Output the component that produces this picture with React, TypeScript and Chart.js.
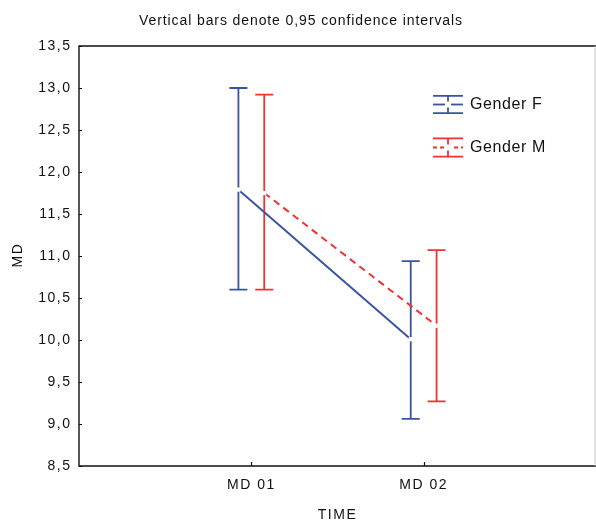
import React, { useEffect, useRef } from "react";
import { Chart, registerables } from "chart.js";

Chart.register(...registerables);

const categories = ["MD 01", "MD 02"];
const seriesNames = ["Gender F", "Gender M"];
const meanF = [11.79, 10.01];
const lowF = [10.6, 9.06];
const highF = [13.0, 10.94];
const meanM = [11.75, 10.17];
const lowM = [10.6, 9.27];
const highM = [12.92, 11.07];
const yMin = 8.5;
const yMax = 13.5;
const yStep = 0.5;
const titleText = "Vertical bars denote 0,95 confidence intervals";
const xTitle = "TIME";
const yTitle = "MD";

const BLUE = "rgb(58,84,164)";
const RED = "rgb(238,50,50)";
const FONT = "'Liberation Sans', Arial, sans-serif";
const OFF = 0.075;
const SPACING = "1.5px";

const errBars = [
  { low: lowF, high: highF, color: BLUE, shift: -OFF },
  { low: lowM, high: highM, color: RED, shift: OFF },
];

const decorPlugin = {
  id: "decor",
  beforeLayout(chart: any) {
    chart.ctx.letterSpacing = SPACING;
  },
  beforeDraw(chart: any) {
    chart.ctx.letterSpacing = SPACING;
  },
  beforeDatasetsDraw(chart: any) {
    const ctx = chart.ctx;
    const xs = chart.scales.x;
    const ys = chart.scales.y;
    ctx.save();
    ctx.lineWidth = 1.8;
    errBars.forEach((eb) => {
      ctx.strokeStyle = eb.color;
      categories.forEach((_, i) => {
        const px = xs.getPixelForValue(i + 1 + eb.shift);
        const top = ys.getPixelForValue(eb.high[i]);
        const bot = ys.getPixelForValue(eb.low[i]);
        ctx.beginPath();
        ctx.moveTo(px, top);
        ctx.lineTo(px, bot);
        ctx.moveTo(px - 9, top);
        ctx.lineTo(px + 9, top);
        ctx.moveTo(px - 9, bot);
        ctx.lineTo(px + 9, bot);
        ctx.stroke();
      });
    });
    ctx.restore();
  },
  afterDraw(chart: any) {
    const ctx = chart.ctx;
    const a = chart.chartArea;
    const xs = chart.scales.x;
    const ys = chart.scales.y;
    const rightX = Math.min(a.right, 595);
    ctx.save();
    // frame
    ctx.strokeStyle = "#111";
    ctx.lineWidth = 1.4;
    ctx.beginPath();
    ctx.moveTo(a.right, a.top);
    ctx.lineTo(a.left, a.top);
    ctx.lineTo(a.left, a.bottom);
    ctx.lineTo(a.right, a.bottom);
    ctx.stroke();
    ctx.strokeStyle = "#c8c8c8";
    ctx.lineWidth = 1;
    ctx.beginPath();
    ctx.moveTo(rightX, a.top);
    ctx.lineTo(rightX, a.bottom);
    ctx.stroke();
    // inward ticks
    ctx.strokeStyle = "#111";
    ctx.lineWidth = 1.2;
    ctx.beginPath();
    for (let v = yMin; v <= yMax + 1e-9; v += yStep) {
      const py = Math.round(ys.getPixelForValue(v)) + 0.5;
      ctx.moveTo(a.left, py);
      ctx.lineTo(a.left + 3, py);
    }
    categories.forEach((_, i) => {
      const px = Math.round(xs.getPixelForValue(i + 1)) + 0.5;
      ctx.moveTo(px, a.bottom);
      ctx.lineTo(px, a.bottom - 4);
    });
    ctx.stroke();
    // texts
    ctx.fillStyle = "#111";
    ctx.textAlign = "center";
    ctx.textBaseline = "middle";
    ctx.letterSpacing = "0.9px";
    ctx.font = `14px ${FONT}`;
    ctx.fillText(titleText, 301, 21);
    ctx.letterSpacing = SPACING;
    ctx.fillText(xTitle, (a.left + a.right) / 2, 515);
    ctx.save();
    ctx.translate(18, (a.top + a.bottom) / 2);
    ctx.rotate(-Math.PI / 2);
    ctx.fillText(yTitle, 1, 0);
    ctx.restore();
    // legend
    const items = [
      { name: seriesNames[0], color: BLUE, dash: [] as number[], cy: 104.5, h: 8.7 },
      { name: seriesNames[1], color: RED, dash: [4, 3], cy: 147.5, h: 9.2 },
    ];
    items.forEach((it) => {
      const cx = 448;
      ctx.strokeStyle = it.color;
      ctx.lineWidth = 1.8;
      ctx.setLineDash([]);
      ctx.beginPath();
      ctx.moveTo(cx - 15, it.cy - it.h);
      ctx.lineTo(cx + 15, it.cy - it.h);
      ctx.moveTo(cx - 15, it.cy + it.h);
      ctx.lineTo(cx + 15, it.cy + it.h);
      ctx.moveTo(cx, it.cy - it.h);
      ctx.lineTo(cx, it.cy + it.h);
      ctx.stroke();
      ctx.setLineDash(it.dash);
      ctx.beginPath();
      ctx.moveTo(cx - 15, it.cy);
      ctx.lineTo(cx + 15, it.cy);
      ctx.stroke();
      ctx.setLineDash([]);
      ctx.fillStyle = "#fff";
      ctx.fillRect(cx - 3, it.cy - 3, 6, 6);
      ctx.fillStyle = "#111";
      ctx.textAlign = "left";
      ctx.letterSpacing = "0.6px";
      ctx.font = `16px ${FONT}`;
      ctx.fillText(it.name, 470, it.cy);
    });
    ctx.restore();
  },
};

export default function App() {
  const ref = useRef<HTMLCanvasElement>(null);
  useEffect(() => {
    document.body.style.margin = "0";
    const canvas = ref.current!;
    const mk = (vals: number[], shift: number) =>
      categories.map((_, i) => ({ x: i + 1 + shift, y: vals[i] }));
    const chart = new Chart(canvas, {
      type: "line",
      data: {
        datasets: [
          {
            label: seriesNames[0],
            data: mk(meanF, -OFF),
            borderColor: BLUE,
            borderWidth: 2,
            pointStyle: "rect",
            pointRadius: 3,
            pointBackgroundColor: "#fff",
            pointBorderWidth: 0,
            pointBorderColor: "#fff",
          },
          {
            label: seriesNames[1],
            data: mk(meanM, OFF),
            borderColor: RED,
            borderWidth: 2,
            borderDash: [7, 5],
            pointStyle: "rect",
            pointRadius: 3,
            pointBackgroundColor: "#fff",
            pointBorderWidth: 0,
            pointBorderColor: "#fff",
          },
        ],
      },
      options: {
        animation: false,
        responsive: false,
        devicePixelRatio: 1,
        layout: { autoPadding: false, padding: { top: 46, right: 0, left: 0, bottom: 0 } },
        plugins: { legend: { display: false }, tooltip: { enabled: false }, title: { display: false } },
        scales: {
          x: {
            type: "linear",
            min: 0,
            max: 3,
            border: { display: false },
            grid: { display: false, drawTicks: false },
            ticks: {
              stepSize: 1,
              padding: 11,
              color: "#111",
              font: { family: FONT, size: 14 },
              maxRotation: 0,
              autoSkip: false,
              callback: (v: any) => (v >= 1 && v <= categories.length ? categories[v - 1] : ""),
            },
            afterFit: (s: any) => {
              s.height = 55;
              s.paddingLeft = 0;
              s.paddingRight = 0;
            },
          },
          y: {
            min: yMin,
            max: yMax,
            border: { display: false },
            grid: { display: false, drawTicks: false },
            ticks: {
              stepSize: yStep,
              padding: 7.5,
              color: "#111",
              font: { family: FONT, size: 14 },
              callback: (v: any) => Number(v).toFixed(1).replace(".", ","),
            },
            afterFit: (s: any) => {
              s.width = 79;
            },
          },
        },
      } as any,
      plugins: [decorPlugin],
    });
    return () => chart.destroy();
  }, []);
  return (
    <div style={{ width: 596, height: 521, position: "relative" }}>
      <canvas ref={ref} width={596} height={521} style={{ width: 596, height: 521, display: "block" }} />
    </div>
  );
}
